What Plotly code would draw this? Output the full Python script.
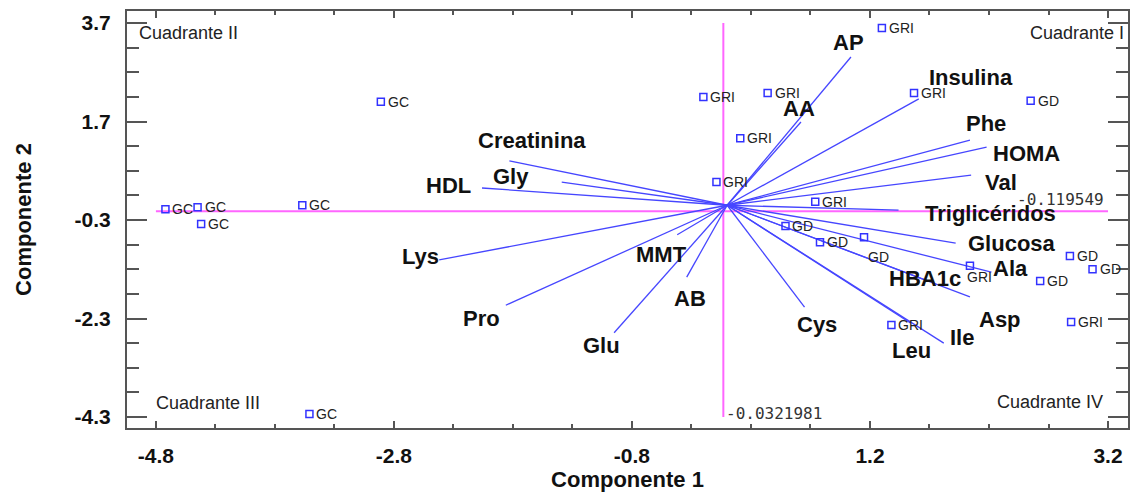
import plotly.graph_objects as go

# ---------------- data ----------------
gc_x = [-4.72, -4.45, -4.42, -3.57, -2.91, -3.51]
gc_y = [-0.08, -0.04, -0.38, 0.00, 2.10, -4.24]

gri_x = [1.30, -0.20, 0.34, 1.57, 0.11, -0.09, 0.74, 2.04, 1.38, 2.89]
gri_y = [3.60, 2.20, 2.28, 2.28, 1.36, 0.47, 0.07, -1.23, -2.43, -2.37]

gd_x = [2.55, 0.49, 0.78, 1.15, 2.88, 3.07, 2.63]
gd_y = [2.12, -0.42, -0.75, -0.65, -1.03, -1.30, -1.54]

var_names = ["AP", "AA", "Insulina", "Phe", "HOMA", "Val", "Triglicéridos",
             "Glucosa", "Ala", "HBA1c", "Asp", "Ile", "Leu", "Cys",
             "Creatinina", "Gly", "HDL", "Lys", "Pro", "MMT", "AB", "Glu"]
var_x = [1.04, 0.62, 1.61, 2.04, 2.18, 2.05, 1.44,
         1.92, 2.22, 1.69, 2.04, 1.82, 1.54, 0.65,
         -1.83, -1.39, -2.06, -2.42, -1.86, -0.42, -0.34, -0.95]
var_y = [3.01, 1.69, 2.16, 1.32, 1.18, 0.61, -0.10,
         -0.77, -1.36, -1.54, -1.86, -2.80, -2.39, -2.07,
         0.90, 0.47, 0.35, -1.11, -2.03, -0.60, -1.46, -2.59]

h_ref = -0.119549
v_ref = -0.0321981
x_ticks = [-4.8, -2.8, -0.8, 1.2, 3.2]
y_ticks = [-4.3, -2.3, -0.3, 1.7, 3.7]

# ---------------- style (label offsets in px) ----------------
var_shift = {
    "AP": (-2, 15), "AA": (-2, 14), "Insulina": (52, 21), "Phe": (16, 17),
    "HOMA": (40, -6), "Val": (30, -7), "Triglicéridos": (92, -3),
    "Glucosa": (56, 0), "Ala": (19, 4), "HBA1c": (-3, 3), "Asp": (30, -23),
    "Ile": (18, 6), "Leu": (1, -28), "Cys": (12, -17),
    "Creatinina": (23, 20), "Gly": (-51, 6), "HDL": (-34, 3), "Lys": (-19, 3),
    "Pro": (-24, -13), "MMT": (-16, -20), "AB": (3, -21), "Glu": (-13, -13),
}
gri_label_shift = {7: (-5, -11)}
gd_label_shift = {3: (2, -20)}

BLUE = "rgb(50,50,255)"
LINE_BLUE = "rgb(70,70,255)"
MAGENTA = "#ff66ff"
AXIS = "#555555"
FONT = "Liberation Sans, Arial, sans-serif"

fig = go.Figure()

# reference lines
fig.add_trace(go.Scatter(x=[x_ticks[0], x_ticks[-1]], y=[h_ref, h_ref], mode="lines",
                         line=dict(color=MAGENTA, width=2), hoverinfo="skip", showlegend=False))
fig.add_trace(go.Scatter(x=[v_ref, v_ref], y=[y_ticks[0], y_ticks[-1]], mode="lines",
                         line=dict(color=MAGENTA, width=2), hoverinfo="skip", showlegend=False))

# vectors from origin
vx, vy = [], []
for x, y in zip(var_x, var_y):
    vx += [0, x, None]
    vy += [0, y, None]
fig.add_trace(go.Scatter(x=vx, y=vy, mode="lines", line=dict(color=LINE_BLUE, width=1.3),
                         hoverinfo="skip", showlegend=False))

# points
for xs, ys in ((gc_x, gc_y), (gri_x, gri_y), (gd_x, gd_y)):
    fig.add_trace(go.Scatter(x=xs, y=ys, mode="markers",
                             marker=dict(symbol="square-open", size=7, color=BLUE,
                                         line=dict(width=1.5, color=BLUE)),
                             showlegend=False))

annotations = []
for name, xs, ys, shifts in (("GC", gc_x, gc_y, {}), ("GRI", gri_x, gri_y, gri_label_shift),
                              ("GD", gd_x, gd_y, gd_label_shift)):
    for i, (x, y) in enumerate(zip(xs, ys)):
        dx, dy = shifts.get(i, (5, 0))
        annotations.append(dict(x=x, y=y, text=name, showarrow=False, xanchor="left",
                                yanchor="middle", xshift=dx, yshift=dy,
                                font=dict(family=FONT, size=14, color="#222222")))

for name, x, y in zip(var_names, var_x, var_y):
    dx, dy = var_shift[name]
    annotations.append(dict(x=x, y=y, text=name, showarrow=False, xanchor="center",
                            yanchor="middle", xshift=dx, yshift=dy,
                            font=dict(family=FONT, size=22, color="#111111", weight="bold")))

# reference line value labels
annotations.append(dict(x=x_ticks[-1], y=h_ref, text=f"{h_ref:g}", showarrow=False,
                        xanchor="right", yanchor="bottom", xshift=-2, yshift=0,
                        font=dict(family="DejaVu Sans Mono", size=16, color="#333333")))
annotations.append(dict(x=v_ref, y=y_ticks[0], text=f"{v_ref:g}", showarrow=False,
                        xanchor="left", yanchor="middle", xshift=1, yshift=4,
                        font=dict(family="DejaVu Sans Mono", size=16, color="#333333")))

# quadrant labels
quad = [("Cuadrante II", 0.010, 0.947, "left"), ("Cuadrante I", 0.900, 0.947, "left"),
        ("Cuadrante III", 0.027, 0.060, "left"), ("Cuadrante IV", 0.867, 0.062, "left")]
for t, px, py, xa in quad:
    annotations.append(dict(x=px, y=py, xref="paper", yref="paper", text=t, showarrow=False,
                            xanchor=xa, yanchor="middle",
                            font=dict(family=FONT, size=18, color="#222222")))

fig.update_layout(
    width=1132, height=493,
    margin=dict(l=127, r=2, t=11, b=65),
    paper_bgcolor="white", plot_bgcolor="white",
    annotations=annotations,
    showlegend=False,
)
fig.update_xaxes(
    range=[-5.043, 3.368], tickvals=x_ticks, ticktext=[f"{v:g}" for v in x_ticks],
    showgrid=False, zeroline=False, showline=True, linecolor=AXIS, linewidth=2,
    mirror="allticks", ticks="inside", ticklen=7, tickwidth=2, tickcolor=AXIS,
    minor=dict(tick0=-4.8, dtick=0.5, ticks="inside", ticklen=4, tickwidth=1.5, tickcolor=AXIS),
    tickfont=dict(family=FONT, size=21, color="#111111", weight="bold"),
    ticklabelstandoff=8,
    title=dict(text="Componente 1", standoff=0,
               font=dict(family=FONT, size=22, color="#111111", weight="bold")),
)
fig.update_yaxes(
    range=[-4.523, 3.944], tickvals=y_ticks, ticktext=[f"{v:g}" for v in y_ticks],
    showgrid=False, zeroline=False, showline=True, linecolor=AXIS, linewidth=2,
    mirror="allticks", ticks="inside", ticklen=20, tickwidth=2, tickcolor=AXIS,
    minor=dict(tick0=-4.3, dtick=0.5, ticks="inside", ticklen=12, tickwidth=1.5, tickcolor=AXIS),
    tickfont=dict(family=FONT, size=21, color="#111111", weight="bold"),
    ticklabelstandoff=10,
    title=dict(text="Componente 2", standoff=37,
               font=dict(family=FONT, size=22, color="#111111", weight="bold")),
)

fig.write_html("out.html", config={"displayModeBar": False},
               post_script="document.body.style.margin='0';")
